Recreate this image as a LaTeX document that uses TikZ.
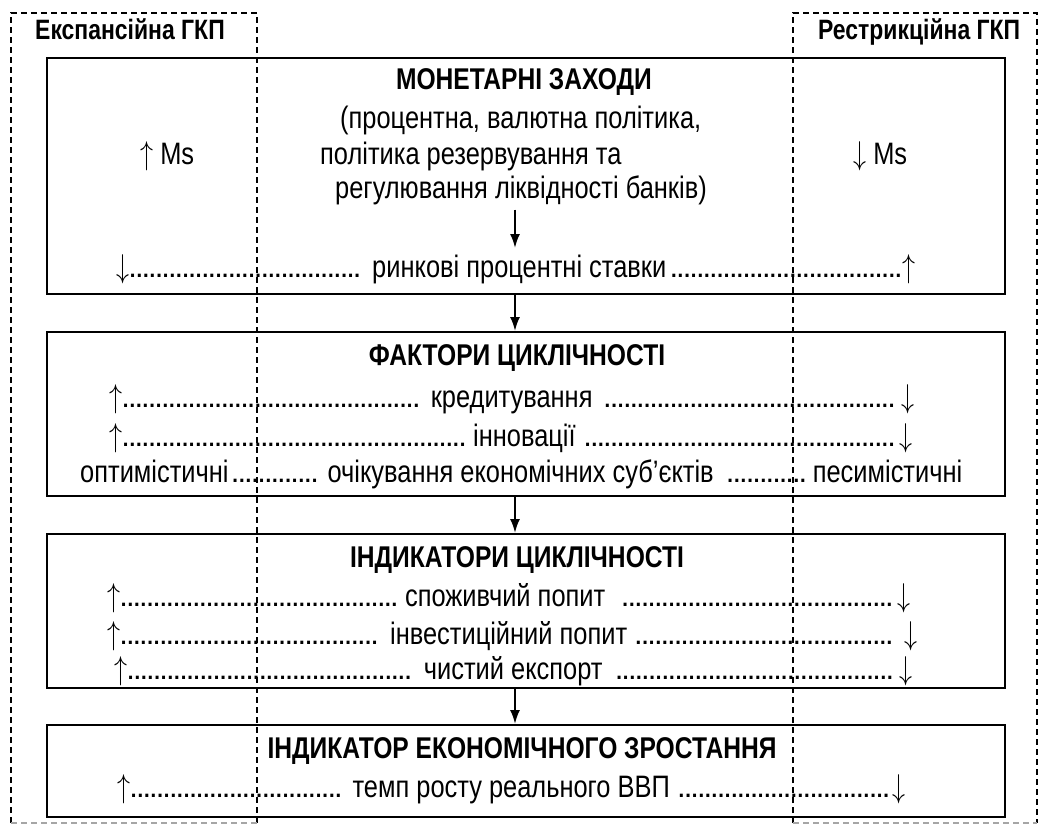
\documentclass[tikz,border=0pt]{standalone}
\usepackage{fontspec}
\usepackage{graphicx}
\setmainfont{Liberation Sans}[FakeStretch=0.82]
\newfontfamily\dotf{Liberation Sans}
\usetikzlibrary{arrows.meta}
\newcommand\dl{\leaders\hbox to 6.6pt{\hss\dotf.\hss}\hskip 0pt plus 1fill\relax}
\newcommand\dlw[1]{\leaders\hbox to 6.6pt{\hss\dotf.\hss}\hskip 0pt plus #1fill\relax}
\newcommand\up{\scalebox{2.6}[3.3]{\fontsize{10}{12}\selectfont$\uparrow$}}
\newcommand\dn{\scalebox{2.6}[3.3]{\fontsize{10}{12}\selectfont$\downarrow$}}
\newcommand\dline[4]{\hbox to #1{#2\dl{}#3\dlw{#4}}}
\begin{document}
\begin{tikzpicture}[x=1pt,y=-1pt,
  box/.style={draw, line width=1.6pt, minimum width=958, inner sep=0, anchor=north west},
  txt/.style={inner sep=0, anchor=base, font=\fontsize{31}{34}\selectfont},
  txtw/.style={txt, anchor=base west},
  ttl/.style={txt, font=\bfseries\fontsize{30}{34}\selectfont},
  hdr/.style={inner sep=0, anchor=base west, font=\bfseries\fontsize{28}{32}\selectfont},
  dsh/.style={line width=1.3pt, dash pattern=on 6pt off 4pt},
  dshg/.style={dsh, draw=gray!70},
  arr/.style={line width=2pt, -{Latex[length=14pt,width=10pt]}}
]
\useasboundingbox (0,0) rectangle (1040,826);
% dashed regions
\draw[dsh] (11,823) -- (11,13) -- (257,13) -- (257,823);
\draw[dshg] (11,823) -- (257,823);
\draw[dsh] (793,823) -- (793,13) -- (1037,13) -- (1037,823);
\draw[dshg] (793,823) -- (1037,823);
\node[hdr] (hexp) at (35,40) {Експансійна ГКП};
\node[hdr] (hres) at (818,40) {Рестрикційна ГКП};
% boxes
\node[box, minimum height=236] (b1) at (46,57) {};
\node[box, minimum height=164] (b2) at (46,331) {};
\node[box, minimum height=154] (b3) at (46,533) {};
\node[box, minimum height=92] (b4) at (46,724) {};
\coordinate (ax) at (515,0);
% box 1
\node[ttl] (t1) at (524,90) {МОНЕТАРНІ ЗАХОДИ};
\node[txtw] (p1) at (340,129) {(процентна, валютна політика,};
\node[txtw] (p2) at (320,165) {політика резервування та};
\node[txtw] (p3) at (335,199) {регулювання ліквідності банків)};
\node[txtw] (ms1) at (140,165) {\up{} Ms};
\node[txtw] (ms2) at (853,165) {\dn{} Ms};
\node[txtw] (r1) at (116,277) {\dline{786pt}{\dn}{\ ринкові процентні ставки}{1}\up};
\coordinate (rtop) at (515,248);
\draw[arr] ([yshift=-4pt]p3.south -| ax) -- (rtop);
% box 2
\node[ttl] (t2) at (517,365) {ФАКТОРИ ЦИКЛІЧНОСТІ};
\node[txtw] (f1) at (109,407) {\dline{792pt}{\up}{\ кредитування }{1}\dn};
\node[txtw] (f2) at (109,446) {\dline{790pt}{\up}{\ інновації }{0.92}\dn};
\node[txtw] (f3) at (80,482) {\hbox to 882pt{оптимістичні\dl{} очікування економічних суб'єктів \dl{}песимістичні}};
% box 3
\node[ttl] (t3) at (517,567) {ІНДИКАТОРИ ЦИКЛІЧНОСТІ};
\node[txtw] (i1) at (107,606) {\dline{790pt}{\up}{\ споживчий попит \ }{1}\dn};
\node[txtw] (i2) at (107,644) {\dline{790pt}{\up}{\ інвестиційний попит }{1}\ \dn};
\node[txtw] (i3) at (114,679) {\dline{785pt}{\up}{\ чистий експорт }{1}\dn};
% box 4
\node[ttl] (t4) at (522,758) {ІНДИКАТОР ЕКОНОМІЧНОГО ЗРОСТАННЯ};
\node[txtw] (g1) at (117,797) {\dline{775pt}{\up}{\ темп росту реального ВВП }{1}\dn};
% arrows between boxes
\draw[arr] (b1.south -| ax) -- (b2.north -| ax);
\draw[arr] (b2.south -| ax) -- (b3.north -| ax);
\draw[arr] (b3.south -| ax) -- (b4.north -| ax);
\end{tikzpicture}
\end{document}
